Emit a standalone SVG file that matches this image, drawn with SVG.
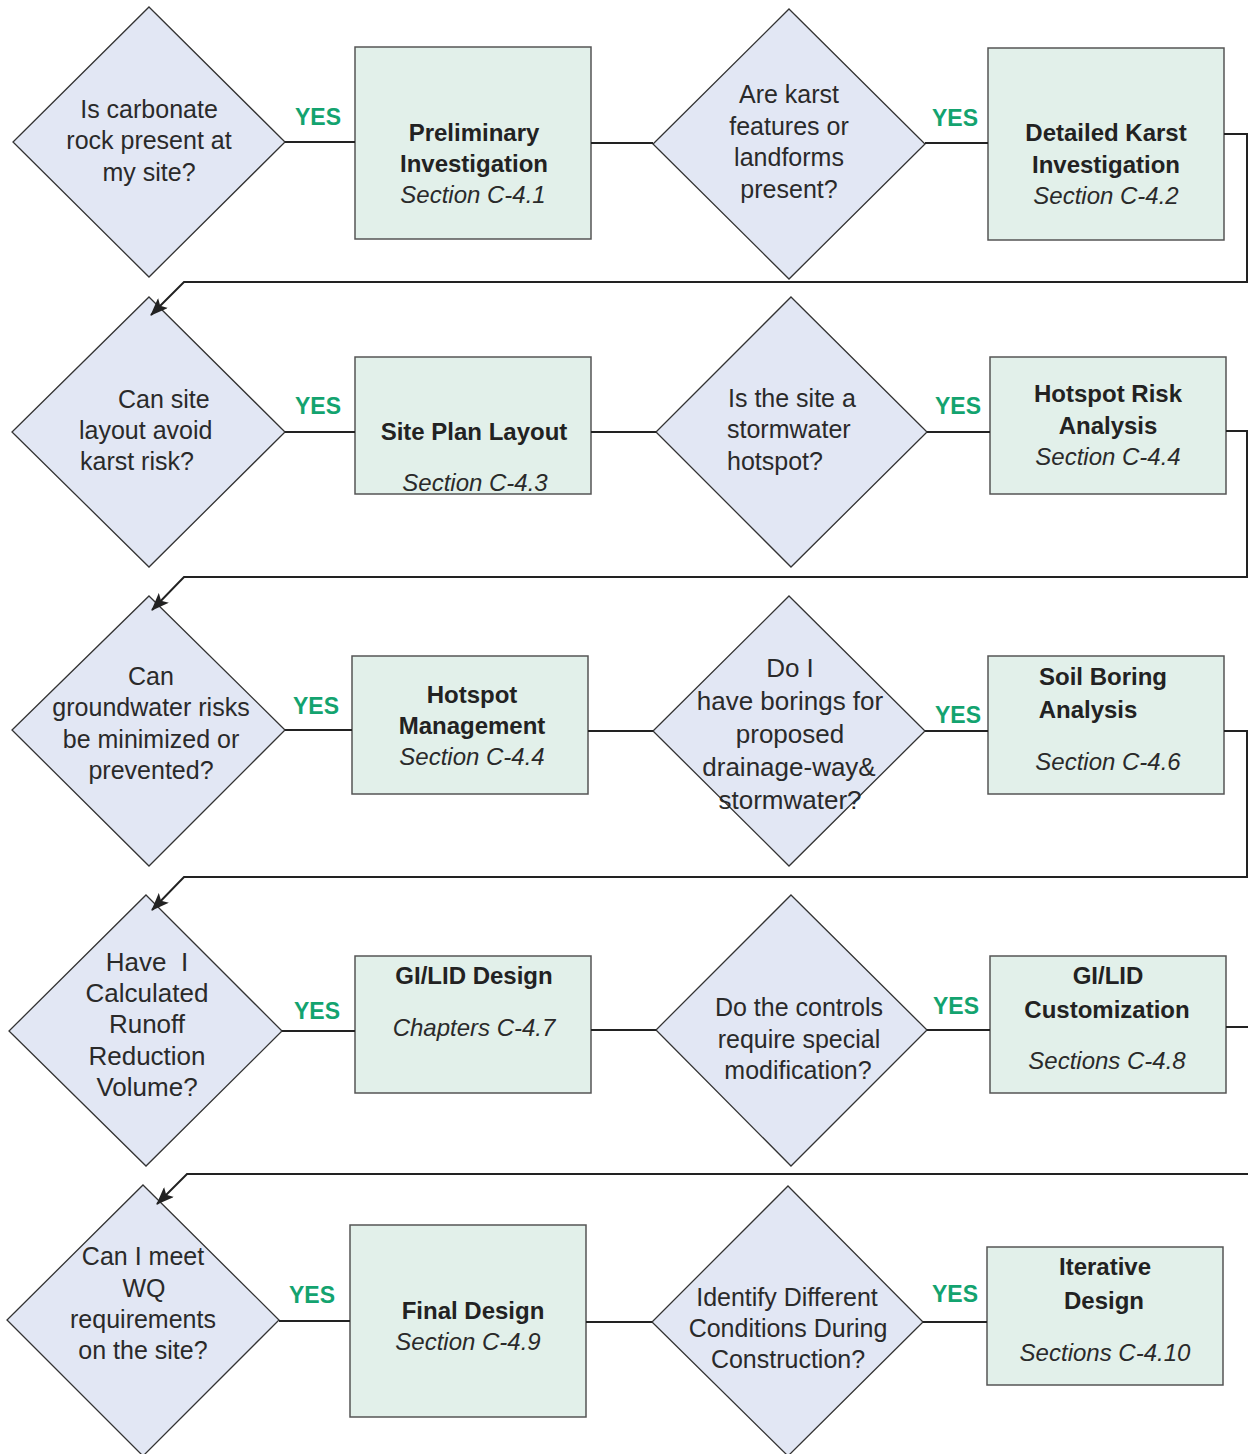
<svg xmlns="http://www.w3.org/2000/svg" width="1248" height="1454" viewBox="0 0 1248 1454">
<defs>
<style>
.dia{fill:#e2e7f4;stroke:#333;stroke-width:1.3}
.box{fill:#e2f0ea;stroke:#555;stroke-width:1.5}
.q{font-family:"Liberation Sans",Arial,sans-serif;font-size:25px;fill:#2a2a2a;text-anchor:middle}
.ql{font-family:"Liberation Sans",Arial,sans-serif;font-size:25px;fill:#2a2a2a}
.b{font-family:"Liberation Sans",Arial,sans-serif;font-size:24px;font-weight:bold;fill:#222;text-anchor:middle}
.i{font-family:"Liberation Sans",Arial,sans-serif;font-size:24px;font-style:italic;fill:#2a2a2a;text-anchor:middle}
.yes{font-family:"Liberation Sans",Arial,sans-serif;font-size:23px;font-weight:bold;fill:#13a36f;text-anchor:middle}
.ln{fill:none;stroke:#222;stroke-width:2}
</style>
<marker id="arr" viewBox="0 0 18 14" refX="17" refY="7" markerWidth="18" markerHeight="14" orient="auto" markerUnits="userSpaceOnUse"><path d="M0,0 L18,7 L0,14 L4,7 z" fill="#222"/></marker>
</defs>
<rect width="1248" height="1454" fill="#fff"/>

<g id="q1">
<polygon class="dia" points="149,7 285,142 149,277 13,142"/>
<text class="q" x="149" y="118">Is carbonate</text>
<text class="q" x="149" y="149">rock present at</text>
<text class="q" x="149" y="181">my site?</text>
</g>
<g id="b1">
<rect class="box" x="355" y="47" width="236" height="192"/>
<text class="b" x="474" y="141">Preliminary</text>
<text class="b" x="474" y="172">Investigation</text>
<text class="i" x="473" y="203">Section C-4.1</text>
</g>
<g id="q2">
<polygon class="dia" points="789,9 925,144 789,279 653,144"/>
<text class="q" x="789" y="103">Are karst</text>
<text class="q" x="789" y="135">features or</text>
<text class="q" x="789" y="166">landforms</text>
<text class="q" x="789" y="198">present?</text>
</g>
<g id="b2">
<rect class="box" x="988" y="48" width="236" height="192"/>
<text class="b" x="1106" y="141">Detailed Karst</text>
<text class="b" x="1106" y="173">Investigation</text>
<text class="i" x="1106" y="204">Section C-4.2</text>
</g>

<g id="q3">
<polygon class="dia" points="149,297 285,432 149,567 12,432"/>
<text class="ql" x="118" y="408">Can site</text>
<text class="ql" x="79" y="439">layout avoid</text>
<text class="ql" x="80" y="470">karst risk?</text>
</g>
<g id="b3">
<rect class="box" x="355" y="357" width="236" height="137"/>
<text class="b" x="474" y="440">Site Plan Layout</text>
<text class="i" x="475" y="491">Section C-4.3</text>
</g>
<g id="q4">
<polygon class="dia" points="791,297 927,432 791,567 656,432"/>
<text class="ql" x="728" y="407">Is the site a</text>
<text class="ql" x="727" y="438">stormwater</text>
<text class="ql" x="727" y="470">hotspot?</text>
</g>
<g id="b4">
<rect class="box" x="990" y="357" width="236" height="137"/>
<text class="b" x="1108" y="402">Hotspot Risk</text>
<text class="b" x="1108" y="434">Analysis</text>
<text class="i" x="1108" y="465">Section C-4.4</text>
</g>

<g id="q5">
<polygon class="dia" points="149,596 285,730 149,866 12,730"/>
<text class="q" x="151" y="685">Can</text>
<text class="q" x="151" y="716">groundwater risks</text>
<text class="q" x="151" y="748">be minimized or</text>
<text class="q" x="151" y="779">prevented?</text>
</g>
<g id="b5">
<rect class="box" x="352" y="656" width="236" height="138"/>
<text class="b" x="472" y="703">Hotspot</text>
<text class="b" x="472" y="734">Management</text>
<text class="i" x="472" y="765">Section C-4.4</text>
</g>
<g id="q6">
<polygon class="dia" points="789,596 925,731 789,866 653,731"/>
<text class="q" x="790" y="677" style="font-size:26px">Do I</text>
<text class="q" x="790" y="710" style="font-size:26px">have borings for</text>
<text class="q" x="790" y="743" style="font-size:26px">proposed</text>
<text class="q" x="789" y="776" style="font-size:26px">drainage-way&amp;</text>
<text class="q" x="790" y="809" style="font-size:26px">stormwater?</text>
</g>
<g id="b6">
<rect class="box" x="988" y="656" width="236" height="138"/>
<text class="b" x="1103" y="685">Soil Boring</text>
<text class="b" x="1088" y="718">Analysis</text>
<text class="i" x="1108" y="770">Section C-4.6</text>
</g>

<g id="q7">
<polygon class="dia" points="146,895 282,1031 146,1166 9,1031"/>
<text class="q" x="147" y="971" style="font-size:26px">Have&#160; I</text>
<text class="q" x="147" y="1002" style="font-size:26px">Calculated</text>
<text class="q" x="147" y="1033" style="font-size:26px">Runoff</text>
<text class="q" x="147" y="1065" style="font-size:26px">Reduction</text>
<text class="q" x="147" y="1096" style="font-size:26px">Volume?</text>
</g>
<g id="b7">
<rect class="box" x="355" y="956" width="236" height="137"/>
<text class="b" x="474" y="984">GI/LID Design</text>
<text class="i" x="474" y="1036">Chapters C-4.7</text>
</g>
<g id="q8">
<polygon class="dia" points="791,895 927,1030 791,1166 656,1030"/>
<text class="q" x="799" y="1016">Do the controls</text>
<text class="q" x="799" y="1048">require special</text>
<text class="q" x="798" y="1079">modification?</text>
</g>
<g id="b8">
<rect class="box" x="990" y="956" width="236" height="137"/>
<text class="b" x="1108" y="984">GI/LID</text>
<text class="b" x="1107" y="1018">Customization</text>
<text class="i" x="1107" y="1069">Sections C-4.8</text>
</g>

<g id="q9">
<polygon class="dia" points="143,1185 279,1320 143,1456 7,1320"/>
<text class="q" x="143" y="1265">Can I meet</text>
<text class="q" x="144" y="1297">WQ</text>
<text class="q" x="143" y="1328">requirements</text>
<text class="q" x="143" y="1359">on the site?</text>
</g>
<g id="b9">
<rect class="box" x="350" y="1225" width="236" height="192"/>
<text class="b" x="473" y="1319">Final Design</text>
<text class="i" x="468" y="1350">Section C-4.9</text>
</g>
<g id="q10">
<polygon class="dia" points="788,1186 923,1322 788,1456 652,1322"/>
<text class="q" x="787" y="1306">Identify Different</text>
<text class="q" x="788" y="1337">Conditions During</text>
<text class="q" x="788" y="1368">Construction?</text>
</g>
<g id="b10">
<rect class="box" x="987" y="1247" width="236" height="138"/>
<text class="b" x="1105" y="1275">Iterative</text>
<text class="b" x="1104" y="1309">Design</text>
<text class="i" x="1105" y="1361">Sections C-4.10</text>
</g>

<g id="connectors">
<path class="ln" d="M285,142 H355"/>
<path class="ln" d="M591,143 H653"/>
<path class="ln" d="M925,143 H988"/>
<path class="ln" d="M1224,134 H1247 V282 H184 L151,315" marker-end="url(#arr)"/>
<path class="ln" d="M285,432 H355"/>
<path class="ln" d="M591,432 H656"/>
<path class="ln" d="M927,432 H990"/>
<path class="ln" d="M1226,431 H1247 V577 H184 L152,610" marker-end="url(#arr)"/>
<path class="ln" d="M285,730 H352"/>
<path class="ln" d="M588,731 H653"/>
<path class="ln" d="M925,731 H988"/>
<path class="ln" d="M1224,731 H1247 V877 H184 L152,910" marker-end="url(#arr)"/>
<path class="ln" d="M282,1031 H355"/>
<path class="ln" d="M591,1030 H656"/>
<path class="ln" d="M927,1030 H990"/>
<path class="ln" d="M1226,1027 H1251 V1174 H187 L157,1204" marker-end="url(#arr)"/>
<path class="ln" d="M279,1321 H350"/>
<path class="ln" d="M586,1322 H652"/>
<path class="ln" d="M923,1322 H987"/>
<text class="yes" x="318" y="125">YES</text>
<text class="yes" x="955" y="126">YES</text>
<text class="yes" x="318" y="414">YES</text>
<text class="yes" x="958" y="414">YES</text>
<text class="yes" x="316" y="714">YES</text>
<text class="yes" x="958" y="723">YES</text>
<text class="yes" x="317" y="1019">YES</text>
<text class="yes" x="956" y="1014">YES</text>
<text class="yes" x="312" y="1303">YES</text>
<text class="yes" x="955" y="1302">YES</text>
</g>
</svg>
